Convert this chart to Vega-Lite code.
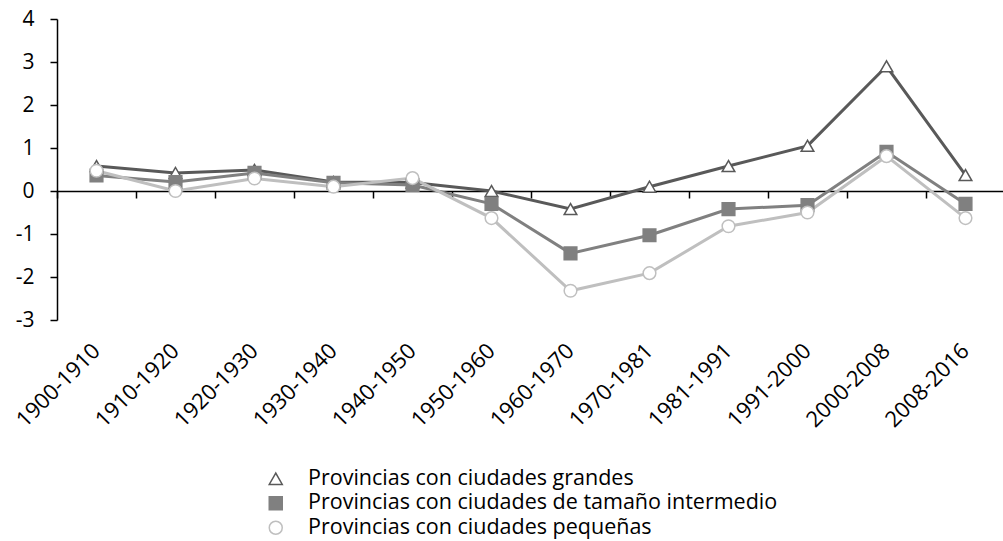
{
  "$schema": "https://vega.github.io/schema/vega-lite/v6.json",
  "width": 948,
  "height": 301,
  "autosize": {"type": "none"},
  "padding": {"left": 57, "top": 19, "right": 0, "bottom": 221},
  "background": "white",
  "config": {
    "view": {"stroke": null}, "font": "Open Sans", "axis": {"grid": false},
    "legend": {
      "title": null, "orient": "none", "legendX": 208, "legendY": 449,
      "padding": 0, "labelFontSize": 21.5, "labelColor": "black", "labelFont": "Open Sans", "labelLimit": 800,
      "symbolSize": 169, "symbolStrokeWidth": 1.5, "labelOffset": 21.5, "rowPadding": 1.5
    }
  },
  "data": {"values": [
    {"period": "1900-1910", "series": "Provincias con ciudades grandes", "value": 0.58},
    {"period": "1910-1920", "series": "Provincias con ciudades grandes", "value": 0.42},
    {"period": "1920-1930", "series": "Provincias con ciudades grandes", "value": 0.49},
    {"period": "1930-1940", "series": "Provincias con ciudades grandes", "value": 0.21},
    {"period": "1940-1950", "series": "Provincias con ciudades grandes", "value": 0.2},
    {"period": "1950-1960", "series": "Provincias con ciudades grandes", "value": 0.0},
    {"period": "1960-1970", "series": "Provincias con ciudades grandes", "value": -0.42},
    {"period": "1970-1981", "series": "Provincias con ciudades grandes", "value": 0.1},
    {"period": "1981-1991", "series": "Provincias con ciudades grandes", "value": 0.58},
    {"period": "1991-2000", "series": "Provincias con ciudades grandes", "value": 1.05},
    {"period": "2000-2008", "series": "Provincias con ciudades grandes", "value": 2.9},
    {"period": "2008-2016", "series": "Provincias con ciudades grandes", "value": 0.37},
    {"period": "1900-1910", "series": "Provincias con ciudades de tamaño intermedio", "value": 0.36},
    {"period": "1910-1920", "series": "Provincias con ciudades de tamaño intermedio", "value": 0.21},
    {"period": "1920-1930", "series": "Provincias con ciudades de tamaño intermedio", "value": 0.42},
    {"period": "1930-1940", "series": "Provincias con ciudades de tamaño intermedio", "value": 0.19},
    {"period": "1940-1950", "series": "Provincias con ciudades de tamaño intermedio", "value": 0.14},
    {"period": "1950-1960", "series": "Provincias con ciudades de tamaño intermedio", "value": -0.3},
    {"period": "1960-1970", "series": "Provincias con ciudades de tamaño intermedio", "value": -1.45},
    {"period": "1970-1981", "series": "Provincias con ciudades de tamaño intermedio", "value": -1.03},
    {"period": "1981-1991", "series": "Provincias con ciudades de tamaño intermedio", "value": -0.42},
    {"period": "1991-2000", "series": "Provincias con ciudades de tamaño intermedio", "value": -0.33},
    {"period": "2000-2008", "series": "Provincias con ciudades de tamaño intermedio", "value": 0.91},
    {"period": "2008-2016", "series": "Provincias con ciudades de tamaño intermedio", "value": -0.3},
    {"period": "1900-1910", "series": "Provincias con ciudades pequeñas", "value": 0.47},
    {"period": "1910-1920", "series": "Provincias con ciudades pequeñas", "value": 0.0},
    {"period": "1920-1930", "series": "Provincias con ciudades pequeñas", "value": 0.29},
    {"period": "1930-1940", "series": "Provincias con ciudades pequeñas", "value": 0.1},
    {"period": "1940-1950", "series": "Provincias con ciudades pequeñas", "value": 0.3},
    {"period": "1950-1960", "series": "Provincias con ciudades pequeñas", "value": -0.63},
    {"period": "1960-1970", "series": "Provincias con ciudades pequeñas", "value": -2.32},
    {"period": "1970-1981", "series": "Provincias con ciudades pequeñas", "value": -1.91},
    {"period": "1981-1991", "series": "Provincias con ciudades pequeñas", "value": -0.82},
    {"period": "1991-2000", "series": "Provincias con ciudades pequeñas", "value": -0.5},
    {"period": "2000-2008", "series": "Provincias con ciudades pequeñas", "value": 0.81},
    {"period": "2008-2016", "series": "Provincias con ciudades pequeñas", "value": -0.63}
  ]},
  "encoding": {
    "y": {
      "field": "value", "type": "quantitative",
      "scale": {"domain": [-3, 4], "nice": false, "zero": false},
      "axis": {
        "title": null, "values": [-3, -2, -1, 0, 1, 2, 3, 4], "grid": false,
        "labelExpr": "'' + datum.value",
        "tickSize": 7, "tickColor": "black", "tickWidth": 1.5,
        "domainColor": "black", "domainWidth": 1.5,
        "labelFontSize": 21, "labelColor": "black", "labelPadding": 16,
        "labelFlush": false, "labelOverlap": false, "labelFont": "Open Sans"
      }
    }
  },
  "layer": [
    {
      "mark": {"type": "line", "strokeWidth": 3},
      "encoding": {
        "x": {
          "field": "period", "type": "nominal",
          "scale": {"type": "band", "paddingInner": 0, "paddingOuter": 0,
            "domain": ["1900-1910", "1910-1920", "1920-1930", "1930-1940", "1940-1950", "1950-1960", "1960-1970", "1970-1981", "1981-1991", "1991-2000", "2000-2008", "2008-2016"]},
          "axis": {
            "title": null, "orient": "bottom", "domain": false, "ticks": false,
            "labelAngle": -45, "labelAlign": "right", "labelBaseline": "middle",
            "labelPadding": 27, "labelOffset": 0, "labelFontSize": 22, "labelColor": "black",
            "labelOverlap": false, "labelBound": false, "labelFont": "Open Sans"
          }
        },
        "color": {
          "field": "series", "type": "nominal",
          "scale": {"domain": ["Provincias con ciudades grandes", "Provincias con ciudades de tamaño intermedio", "Provincias con ciudades pequeñas"],
            "range": ["#595959", "#808080", "#bfbfbf"]}
        }
      }
    },
    {
      "mark": {"type": "point", "filled": true, "size": 160, "strokeWidth": 1.5, "opacity": 1},
      "encoding": {
        "x": {
          "field": "period", "type": "nominal",
          "axis": {
            "title": null, "orient": "bottom", "offset": -129, "labels": false,
            "ticks": true, "tickSize": 7, "tickColor": "black", "tickWidth": 1.5, "bandPosition": 0,
            "domain": true, "domainColor": "black", "domainWidth": 1.5
          }
        },
        "shape": {
          "field": "series", "type": "nominal",
          "scale": {"domain": ["Provincias con ciudades grandes", "Provincias con ciudades de tamaño intermedio", "Provincias con ciudades pequeñas"],
            "range": ["triangle-up", "square", "circle"]}
        },
        "fill": {
          "field": "series", "type": "nominal",
          "scale": {"domain": ["Provincias con ciudades grandes", "Provincias con ciudades de tamaño intermedio", "Provincias con ciudades pequeñas"],
            "range": ["white", "#808080", "white"]}
        },
        "stroke": {
          "field": "series", "type": "nominal",
          "scale": {"domain": ["Provincias con ciudades grandes", "Provincias con ciudades de tamaño intermedio", "Provincias con ciudades pequeñas"],
            "range": ["#595959", "#808080", "#bfbfbf"]}
        }
      }
    }
  ],
  "resolve": {"axis": {"x": "independent"}}
}
